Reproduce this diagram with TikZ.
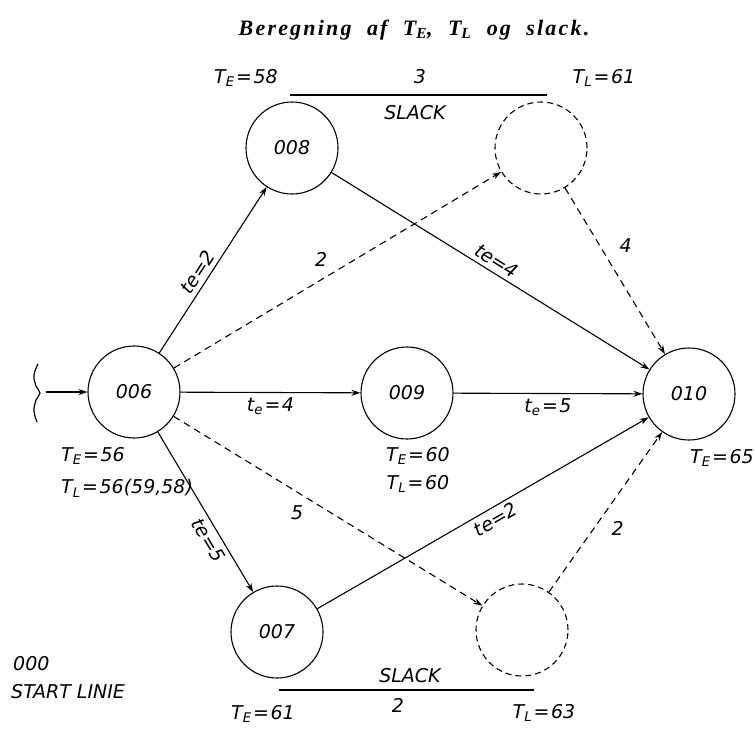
\documentclass[tikz,border=0pt]{standalone}
\usepackage{fontspec}
\usetikzlibrary{arrows.meta}
\newfontfamily\hand{DejaVu Sans}
\newfontfamily\titlefont[LetterSpace=10]{Liberation Serif}
\newcommand\hs[1]{\textsubscript{#1}}
\newcommand\eq{\kern1.5pt=\kern1.5pt}
\begin{document}
\begin{tikzpicture}[x=1pt,y=-1pt,
  hw/.style={font=\hand\itshape\fontsize{19}{22}\selectfont, inner sep=1pt},
  ev/.style={circle, draw, line width=1.1pt, minimum size=92pt, inner sep=0pt, font=\hand\itshape\fontsize{19}{21}\selectfont},
  dev/.style={ev, dashed, dash pattern=on 6pt off 4pt},
  arr/.style={line width=1.1pt, -{Stealth[length=9pt,width=6pt]}},
  darr/.style={arr, dash pattern=on 7pt off 5pt},
  lbl/.style={hw}
]
\useasboundingbox (0,0) rectangle (755,731);
\node[font=\titlefont\itshape\bfseries\fontsize{22}{25}\selectfont] (title) at (414,30) {Beregning\ \ af\ \ T\textsubscript{E},\ \ T\textsubscript{L}\ \ og\ \ slack.};

\node[ev] (n006) at (134,392) {006};
\node[ev] (n008) at (292,148) {008};
\node[dev] (d1) at (541,148) {};
\node[ev] (n009) at (407,393) {009};
\node[ev] (n010) at (689,394) {010};
\node[ev] (n007) at (277,632) {007};
\node[dev] (d2) at (522,630) {};

% entry
\draw[line width=1.2pt] plot[smooth, tension=0.7] coordinates {(38,364) (34,375) (36,386) (40,393) (36,400) (34,411) (37,422)};
\coordinate (in) at (46,392);
\draw[arr] (in) -- (n006);

% edges
\draw[arr] (n006) -- node[lbl, sloped, above=3pt, pos=0.45] (l1) {te=2} (n008);
\draw[darr] (n006) -- node[lbl, pos=0.45, above=12pt] (l2) {2} (d1);
\draw[arr] (n006) -- node[lbl, below=4pt] (l3) {t\hs{e}\eq4} (n009);
\draw[darr] (n006) -- node[lbl, pos=0.4, below=12pt] (l4) {5} (d2);
\draw[arr] (n006) -- node[lbl, sloped, below=3pt, pos=0.64] (l5) {te=5} (n007);
\draw[arr] (n008) -- node[lbl, sloped, above=3pt, pos=0.5] (l6) {te=4} (n010);
\draw[darr] (d1) -- node[lbl, pos=0.35, right=18pt] (l7) {4} (n010);
\draw[arr] (n009) -- node[lbl, below=4pt] (l8) {t\hs{e}\eq5} (n010);
\draw[arr] (n007) -- node[lbl, sloped, below=3pt, pos=0.52] (l9) {te=2} (n010);
\draw[darr] (d2) -- node[lbl, pos=0.4, right=16pt] (l10) {2} (n010);

% top slack
\coordinate (s1a) at (290,95);
\coordinate (s1b) at (547,95);
\draw[line width=1.1pt] (s1a) -- (s1b);
\node[hw] (te58) at (246,78) {T\hs{E}\eq58};
\node[hw] (tl61) at (604,78) {T\hs{L}\eq61};
\node[hw] (sl3) at (420,77) {3};
\node[hw] (slk1) at (415,113) {SLACK};

% bottom slack
\coordinate (s2a) at (279,690);
\coordinate (s2b) at (534,690);
\draw[line width=1.1pt] (s2a) -- (s2b);
\node[hw] (slk2) at (410,676) {SLACK};
\node[hw] (sl2) at (398,705) {2};
\node[hw] (te61) at (263,714) {T\hs{E}\eq61};
\node[hw] (tl63) at (544,713) {T\hs{L}\eq63};

% node times
\node[hw, anchor=west] (te56) at (60,456) {T\hs{E}\eq56};
\node[hw, anchor=west] (tl56) at (60,488) {T\hs{L}\eq56(59,58)};
\node[hw] (te60) at (418,456) {T\hs{E}\eq60};
\node[hw] (tl60) at (418,484) {T\hs{L}\eq60};
\node[hw, anchor=east] (te65) at (755,458) {T\hs{E}\eq65};

\node[hw, anchor=west] (z000) at (12,664) {000};
\node[hw, anchor=west] (start) at (10,692) {START LINIE};
\end{tikzpicture}
\end{document}
